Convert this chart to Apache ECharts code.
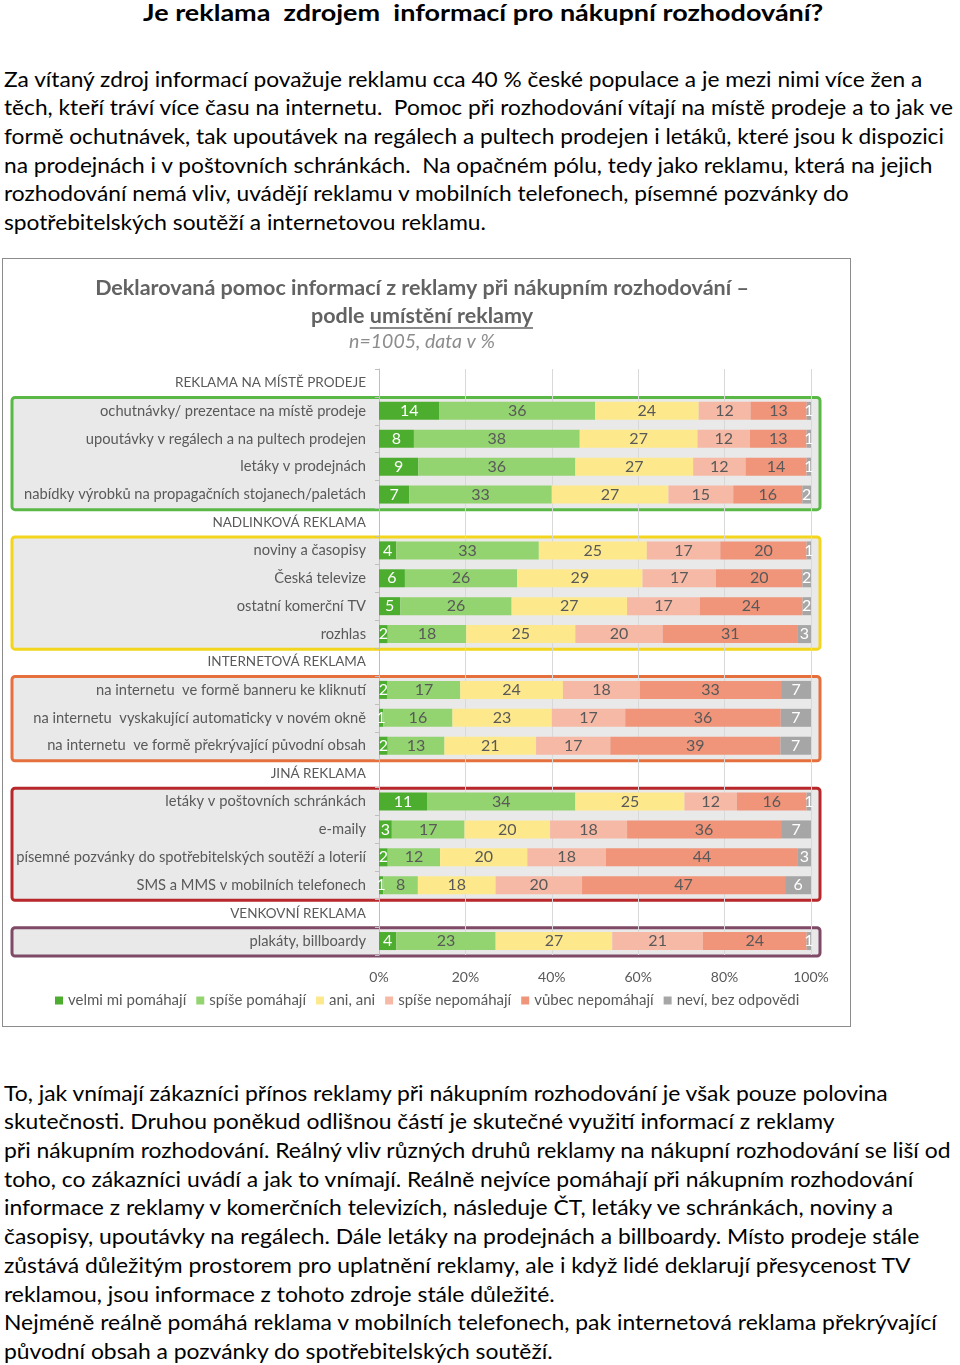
<!DOCTYPE html>
<html><head><meta charset="utf-8">
<script src="https://cdn.jsdelivr.net/npm/echarts@6/dist/echarts.min.js"></script>
<style>
html,body{margin:0;padding:0;background:#fff;}
body{width:960px;height:1365px;position:relative;overflow:hidden;font-family:Lato,"Open Sans",sans-serif;color:#000;}
#title{position:absolute;top:0;left:0;font-weight:bold;font-size:22px;line-height:26px;white-space:nowrap;transform-origin:0 0;}
.para{position:absolute;left:4px;font-size:21px;line-height:28.7px;transform-origin:0 0;}
.para div{white-space:nowrap;}
#frame{position:absolute;left:2px;top:258px;width:849px;height:769px;border:1px solid #8c8c8c;box-sizing:border-box;}
#chart{position:absolute;left:3px;top:259px;width:847px;height:767px;}
</style></head>
<body>
<div id="title"><span>Je reklama&nbsp; zdrojem&nbsp; informací pro nákupní rozhodování?</span></div>
<div class="para" id="p1" style="top:64.6px">
<div><span>Za vítaný zdroj informací považuje reklamu cca 40 % české populace a je mezi nimi více žen a</span></div>
<div><span>těch, kteří tráví více času na internetu.&nbsp; Pomoc při rozhodování vítají na místě prodeje a to jak ve</span></div>
<div><span>formě ochutnávek, tak upoutávek na regálech a pultech prodejen i letáků, které jsou k dispozici</span></div>
<div><span>na prodejnách i v poštovních schránkách.&nbsp; Na opačném pólu, tedy jako reklamu, která na jejich</span></div>
<div><span>rozhodování nemá vliv, uvádějí reklamu v mobilních telefonech, písemné pozvánky do</span></div>
<div><span>spotřebitelských soutěží a internetovou reklamu.</span></div>
</div>
<div id="frame"></div>
<div id="chart"></div>
<div class="para" id="p2" style="top:1078.6px">
<div><span>To, jak vnímají zákazníci přínos reklamy při nákupním rozhodování je však pouze polovina</span></div>
<div><span>skutečnosti. Druhou poněkud odlišnou částí je skutečné využití informací z reklamy</span></div>
<div><span>při nákupním rozhodování. Reálný vliv různých druhů reklamy na nákupní rozhodování se liší od</span></div>
<div><span>toho, co zákazníci uvádí a jak to vnímají. Reálně nejvíce pomáhají při nákupním rozhodování</span></div>
<div><span>informace z reklamy v komerčních televizích, následuje ČT, letáky ve schránkách, noviny a</span></div>
<div><span>časopisy, upoutávky na regálech. Dále letáky na prodejnách a billboardy. Místo prodeje stále</span></div>
<div><span>zůstává důležitým prostorem pro uplatnění reklamy, ale i když lidé deklarují přesycenost TV</span></div>
<div><span>reklamou, jsou informace z tohoto zdroje stále důležité.</span></div>
<div><span>Nejméně reálně pomáhá reklama v mobilních telefonech, pak internetová reklama překrývající</span></div>
<div><span>původní obsah a pozvánky do spotřebitelských soutěží.</span></div>
</div>
<script>
// ---- data ----
const categories = [
  "REKLAMA NA MÍSTĚ PRODEJE",
  "ochutnávky/ prezentace na místě prodeje",
  "upoutávky v regálech a na pultech prodejen",
  "letáky v prodejnách",
  "nabídky výrobků na propagačních stojanech/paletách",
  "NADLINKOVÁ REKLAMA",
  "noviny a časopisy",
  "Česká televize",
  "ostatní komerční TV",
  "rozhlas",
  "INTERNETOVÁ REKLAMA",
  "na internetu  ve formě banneru ke kliknutí",
  "na internetu  vyskakující automaticky v novém okně",
  "na internetu  ve formě překrývající původní obsah",
  "JINÁ REKLAMA",
  "letáky v poštovních schránkách",
  "e-maily",
  "písemné pozvánky do spotřebitelských soutěží a loterií",
  "SMS a MMS v mobilních telefonech",
  "VENKOVNÍ REKLAMA",
  "plakáty, billboardy"
];
const sectionHeaders = ["REKLAMA NA MÍSTĚ PRODEJE","NADLINKOVÁ REKLAMA","INTERNETOVÁ REKLAMA","JINÁ REKLAMA","VENKOVNÍ REKLAMA"];
const seriesNames = ["velmi mi pomáhají","spíše pomáhají","ani, ani","spíše nepomáhají","vůbec nepomáhají","neví, bez odpovědi"];
const velmiPomahaji   = [null,14, 8, 9, 7,null, 4, 6, 5, 2,null, 2, 1, 2,null,11, 3, 2, 1,null, 4];
const spisePomahaji   = [null,36,38,36,33,null,33,26,26,18,null,17,16,13,null,34,17,12, 8,null,23];
const aniAni          = [null,24,27,27,27,null,25,29,27,25,null,24,23,21,null,25,20,20,18,null,27];
const spiseNepomahaji = [null,12,12,12,15,null,17,17,17,20,null,18,17,17,null,12,18,18,20,null,21];
const vubecNepomahaji = [null,13,13,14,16,null,20,20,24,31,null,33,36,39,null,16,36,44,47,null,24];
const neviBezOdpovedi = [null, 1, 1, 1, 2,null, 1, 2, 2, 3,null, 7, 7, 7,null, 1, 7, 3, 6,null, 1];
const xTicks = [0,20,40,60,80,100];

// ---- styles ----
const FONT = 'Lato, "Open Sans", sans-serif';
const segColors = ['#4cad2f','#93d370','#fde98c','#f5b9a5','#f0947a','#a6a6a6'];
const labelColors = ['#ffffff','#595959','#595959','#595959','#595959','#ffffff'];
const groups = [
  {first:1,last:4,color:'#5ab946'},
  {first:6,last:9,color:'#f2d51c'},
  {first:11,last:13,color:'#e5703e'},
  {first:15,last:18,color:'#b8282a'},
  {first:20,last:20,color:'#7e4a66'}
];

function fitLine(containerId, refIdx, target){
  const c=document.getElementById(containerId);
  const sp=c.querySelectorAll('span')[refIdx];
  const w=sp.offsetWidth;
  c.style.transform='scaleX('+(target/w)+')';
}
function layoutText(){
  fitLine('p1',0,918);
  fitLine('p2',2,946);
  const t=document.getElementById('title');
  const w=t.querySelector('span').offsetWidth;
  t.style.transform='scaleX('+(680/w)+')';
  t.style.left='143px';
}

const allRaw=[velmiPomahaji,spisePomahaji,aniAni,spiseNepomahaji,vubecNepomahaji,neviBezOdpovedi];
const totals=categories.map((c,i)=>{let s=0;allRaw.forEach(a=>{if(a[i]!=null)s+=a[i];});return s;});

const chart=echarts.init(document.getElementById('chart'),null,{renderer:'canvas'});
const series=allRaw.map((arr,k)=>({
  name:seriesNames[k],type:'bar',stack:'all',barWidth:18,
  itemStyle:{color:segColors[k]},
  label:{show:true,position:'inside',color:labelColors[k],fontSize:16,fontFamily:FONT,
    formatter:p=>arr[p.dataIndex]==null?'':String(arr[p.dataIndex])},
  labelLayout:{hideOverlap:false},
  data:arr.map((v,i)=>v==null?'-':v/totals[i]*100)
}));

function measure(text,font){const c=document.createElement('canvas').getContext('2d');c.font=font;return c.measureText(text).width;}

const cx=419;
const tFont='bold 21.5px '+FONT;
const line2='podle umístění reklamy';
const full=measure(line2,tFont), pre=measure('podle ',tFont);

chart.setOption({
  animation:false,
  grid:{left:376,width:432,top:110,height:586,containLabel:false},
  legend:{data:seriesNames,left:52,top:734,icon:'rect',itemWidth:8,itemHeight:8,itemGap:10,padding:0,
    textStyle:{color:'#595959',fontSize:15,fontFamily:FONT}},
  xAxis:{type:'value',min:0,max:100,interval:20,
    axisLine:{show:false},axisTick:{show:false},
    axisLabel:{formatter:v=>xTicks.indexOf(v)>=0?v+'%':'',color:'#595959',fontSize:14,fontFamily:FONT,margin:15},
    splitLine:{lineStyle:{color:'#d9d9d9'}}},
  yAxis:{type:'category',inverse:true,data:categories,
    axisLine:{show:true,lineStyle:{color:'#bfbfbf'}},
    axisTick:{show:true,length:4,lineStyle:{color:'#bfbfbf'}},
    axisLabel:{color:'#595959',fontFamily:FONT,margin:13,
      formatter:v=>sectionHeaders.indexOf(v)>=0?'{h|'+v+'}':'{c|'+v+'}',
      rich:{h:{fontSize:13.5,fontFamily:FONT,color:'#595959'},c:{fontSize:14.7,fontFamily:FONT,color:'#595959'}}}},
  series:series,
  graphic:[
    {type:'text',id:'t1',x:cx,y:29,style:{text:'Deklarovaná pomoc informací z reklamy při nákupním rozhodování –',font:tFont,fill:'#636363',align:'center',verticalAlign:'middle'}},
    {type:'text',id:'t2',x:cx,y:57,style:{text:line2,font:tFont,fill:'#636363',align:'center',verticalAlign:'middle'}},
    {type:'line',id:'u',shape:{x1:cx-full/2+pre,y1:69,x2:cx+full/2,y2:69},style:{stroke:'#636363',lineWidth:1.3}},
    {type:'text',id:'t3',x:cx,y:83,style:{text:'n=1005, data v %',font:'italic 19.5px '+FONT,fill:'#8c8c8c',align:'center',verticalAlign:'middle'}}
  ]
});

function addBoxes(){
  const c0=chart.convertToPixel({yAxisIndex:0},categories[0]);
  const c1=chart.convertToPixel({yAxisIndex:0},categories[1]);
  const band=c1-c0;
  const rects=groups.map((g,i)=>{
    const top=chart.convertToPixel({yAxisIndex:0},categories[g.first])-band*0.48;
    const bot=chart.convertToPixel({yAxisIndex:0},categories[g.last])+band*0.54;
    return {type:'rect',id:'box'+i,z:-5,shape:{x:9,y:top,width:808,height:bot-top,r:3},
      style:{fill:'#e9e9e9',stroke:g.color,lineWidth:3}};
  });
  chart.setOption({graphic:rects});
}
addBoxes();
layoutText();
if(document.fonts&&document.fonts.ready){document.fonts.ready.then(()=>{layoutText();});}
</script>
</body></html>
